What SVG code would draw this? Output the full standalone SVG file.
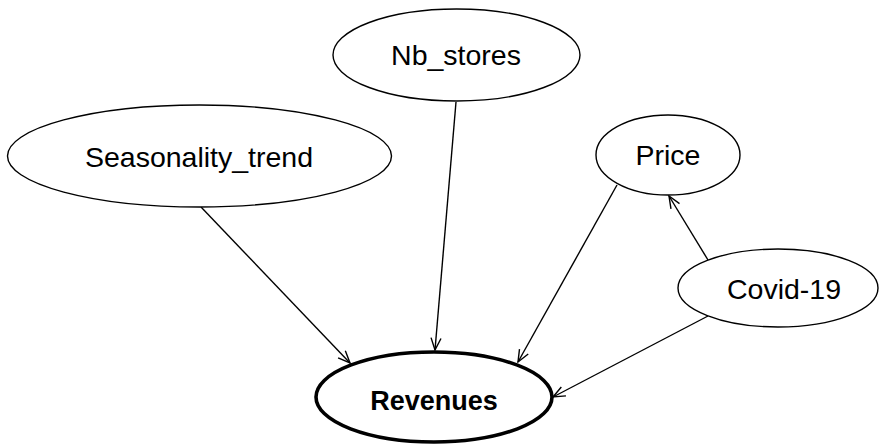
<svg xmlns="http://www.w3.org/2000/svg" width="880" height="446" viewBox="0 0 880 446">
<style>
.n{fill:#fff;stroke:#000;stroke-width:1.4}
.b{fill:#fff;stroke:#000;stroke-width:3.6}
.t{font-family:"Liberation Sans",Arial,sans-serif;font-size:28.5px;fill:#000;text-anchor:middle}
.tb{font-family:"Liberation Sans",Arial,sans-serif;font-size:27px;font-weight:bold;fill:#000;text-anchor:middle}
.e{stroke:#000;stroke-width:1.4;fill:none;marker-end:url(#arr)}
</style>
<defs>
<marker id="arr" viewBox="0 0 14 12" refX="13" refY="6" markerWidth="14" markerHeight="12" markerUnits="userSpaceOnUse" orient="auto">
<path d="M1,1 L13,6 L1,11" fill="none" stroke="#000" stroke-width="1.4"/>
</marker>
</defs>
<g id="edges">
<line class="e" x1="201" y1="207" x2="350" y2="363"/>
<line class="e" x1="456" y1="102" x2="435" y2="350"/>
<line class="e" x1="617" y1="185" x2="518" y2="362"/>
<line class="e" x1="708" y1="260" x2="669" y2="196"/>
<line class="e" x1="708" y1="316" x2="553" y2="397"/>
</g>
<g id="nb_stores">
<ellipse class="n" cx="456.5" cy="55" rx="123.5" ry="46"/>
<text class="t" x="456" y="65">Nb_stores</text>
</g>
<g id="seasonality_trend">
<ellipse class="n" cx="199.5" cy="156" rx="192" ry="51"/>
<text class="t" x="199" y="167">Seasonality_trend</text>
</g>
<g id="price">
<ellipse class="n" cx="668" cy="155" rx="72" ry="40"/>
<text class="t" x="668" y="165">Price</text>
</g>
<g id="covid19">
<ellipse class="n" cx="778" cy="288" rx="100" ry="39"/>
<text class="t" x="784" y="299">Covid-19</text>
</g>
<g id="revenues">
<ellipse class="b" cx="434" cy="397" rx="118" ry="45"/>
<text class="tb" x="434" y="410">Revenues</text>
</g>
</svg>
